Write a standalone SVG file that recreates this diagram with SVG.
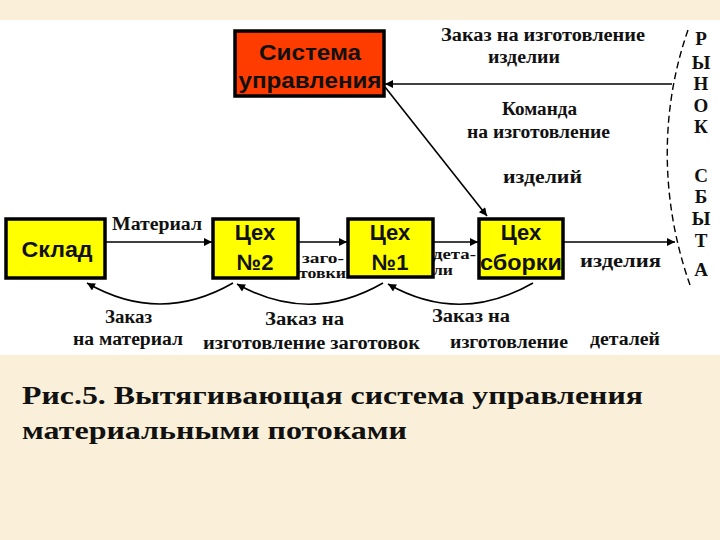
<svg xmlns="http://www.w3.org/2000/svg" width="720" height="540" viewBox="0 0 720 540">
<style>
.box{stroke:#000;stroke-width:3.5}
.y{fill:#FFFF00}
.r{fill:#FF3C00}
.bt{font-family:"Liberation Sans",Arial,sans-serif;font-weight:bold;font-size:22px;fill:#111;text-anchor:middle}
.lb{font-family:"Liberation Serif","Times New Roman",serif;font-weight:bold;font-size:18px;fill:#111}
.sm{font-family:"Liberation Serif","Times New Roman",serif;font-weight:bold;font-size:14px;fill:#111}
.vt{font-family:"Liberation Serif","Times New Roman",serif;font-weight:bold;font-size:19px;fill:#111;text-anchor:middle}
.cap{font-family:"Liberation Serif","Times New Roman",serif;font-weight:bold;font-size:26px;fill:#111}
.ln{fill:none;stroke:#000;stroke-width:1.6}
.dash{fill:none;stroke:#000;stroke-width:1.4;stroke-dasharray:7 4}
</style>
<defs>
<marker id="ah" viewBox="0 0 10 10" refX="10" refY="5" markerWidth="10" markerHeight="8" markerUnits="userSpaceOnUse" orient="auto">
<path d="M0,0 L10,5 L0,10 Z" fill="#000"/>
</marker>
</defs>
<rect x="0" y="0" width="720" height="540" fill="#FAF0D9"/>
<rect x="0" y="20" width="720" height="335" fill="#FFFFFF"/>

<g id="connectors">
<line class="ln" x1="105" y1="242" x2="212" y2="242" marker-end="url(#ah)"/>
<line class="ln" x1="298" y1="242" x2="347" y2="242" marker-end="url(#ah)"/>
<line class="ln" x1="433" y1="242" x2="478" y2="242" marker-end="url(#ah)"/>
<line class="ln" x1="563" y1="242" x2="675" y2="242" marker-end="url(#ah)"/>
<line class="ln" x1="672" y1="84" x2="385" y2="84" marker-end="url(#ah)"/>
<line class="ln" x1="385" y1="87" x2="487" y2="216" marker-end="url(#ah)"/>
<path class="ln" d="M233,283 Q160,325 87,283" marker-end="url(#ah)"/>
<path class="ln" d="M383,283 Q310,325 237,284" marker-end="url(#ah)"/>
<path class="ln" d="M533,283 Q460,325 388,284" marker-end="url(#ah)"/>
<path class="dash" d="M688,30 C660,110 660,200 690,285"/>
</g>

<g id="labels">
<text class="lb" x="441" y="41" textLength="204" lengthAdjust="spacingAndGlyphs">Заказ на  изготовление</text>
<text class="lb" x="488" y="63" textLength="72" lengthAdjust="spacingAndGlyphs">изделии</text>
<text class="lb" x="502" y="115" textLength="75" lengthAdjust="spacingAndGlyphs">Команда</text>
<text class="lb" x="467" y="138" textLength="143" lengthAdjust="spacingAndGlyphs">на изготовление</text>
<text class="lb" x="503" y="183" textLength="79" lengthAdjust="spacingAndGlyphs">изделий</text>
<text class="lb" x="112" y="230" textLength="90" lengthAdjust="spacingAndGlyphs">Материал</text>
<text class="sm" x="302" y="263" textLength="42" lengthAdjust="spacingAndGlyphs">заго-</text>
<text class="sm" x="299" y="278" textLength="47" lengthAdjust="spacingAndGlyphs">товки</text>
<text class="sm" x="433" y="259" textLength="43" lengthAdjust="spacingAndGlyphs">дета-</text>
<text class="sm" x="433" y="275" textLength="20" lengthAdjust="spacingAndGlyphs">ли</text>
<text class="lb" x="580" y="267" textLength="81" lengthAdjust="spacingAndGlyphs">изделия</text>
<text class="lb" x="105" y="323" textLength="47" lengthAdjust="spacingAndGlyphs">Заказ</text>
<text class="lb" x="73" y="345" textLength="110" lengthAdjust="spacingAndGlyphs">на материал</text>
<text class="lb" x="265" y="325" textLength="79" lengthAdjust="spacingAndGlyphs">Заказ  на</text>
<text class="lb" x="203" y="349" textLength="217" lengthAdjust="spacingAndGlyphs">изготовление  заготовок</text>
<text class="lb" x="432" y="322" textLength="78" lengthAdjust="spacingAndGlyphs">Заказ  на</text>
<text class="lb" x="450" y="348" textLength="118" lengthAdjust="spacingAndGlyphs">изготовление</text>
<text class="lb" x="590" y="345" textLength="70" lengthAdjust="spacingAndGlyphs">деталей</text>
</g>

<g id="market">
<text class="vt" x="701" y="45">Р</text>
<text class="vt" x="701" y="69">Ы</text>
<text class="vt" x="701" y="90">Н</text>
<text class="vt" x="701" y="112">О</text>
<text class="vt" x="701" y="133">К</text>
<text class="vt" x="701" y="182">С</text>
<text class="vt" x="701" y="203">Б</text>
<text class="vt" x="701" y="225">Ы</text>
<text class="vt" x="701" y="247">Т</text>
<text class="vt" x="701" y="276">А</text>
</g>

<g id="control">
<rect class="box r" x="235" y="31" width="149" height="65"/>
<text class="bt" x="310" y="60" textLength="102" lengthAdjust="spacingAndGlyphs">Система</text>
<text class="bt" x="310" y="88" textLength="143" lengthAdjust="spacingAndGlyphs">управления</text>
</g>
<g id="sklad">
<rect class="box y" x="6" y="219" width="99" height="59"/>
<text class="bt" x="57" y="257" textLength="71" lengthAdjust="spacingAndGlyphs">Склад</text>
</g>
<g id="shop2">
<rect class="box y" x="213" y="219" width="85" height="59"/>
<text class="bt" x="255" y="240">Цех</text>
<text class="bt" x="255" y="270">№2</text>
</g>
<g id="shop1">
<rect class="box y" x="348" y="219" width="85" height="58"/>
<text class="bt" x="390" y="240">Цех</text>
<text class="bt" x="390" y="270">№1</text>
</g>
<g id="assembly">
<rect class="box y" x="479" y="219" width="84" height="59"/>
<text class="bt" x="521" y="240">Цех</text>
<text class="bt" x="521" y="270" textLength="82" lengthAdjust="spacingAndGlyphs">сборки</text>
</g>

<g id="caption">
<text class="cap" x="22" y="404" textLength="621" lengthAdjust="spacingAndGlyphs">Рис.5. Вытягивающая система управления</text>
<text class="cap" x="22" y="439" textLength="385" lengthAdjust="spacingAndGlyphs">материальными потоками</text>
</g>
</svg>
